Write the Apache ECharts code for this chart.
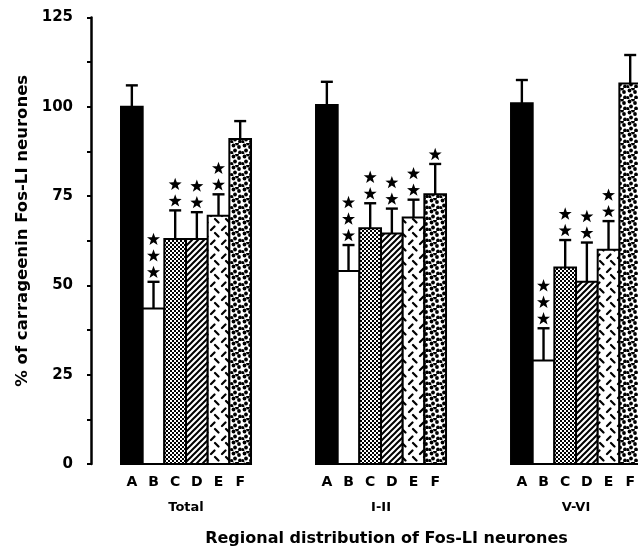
<!DOCTYPE html>
<html>
<head>
<meta charset="utf-8">
<script src="https://cdn.jsdelivr.net/npm/echarts@6/dist/echarts.min.js"></script>
<style>body{margin:0;background:#fff}</style>
</head>
<body>
<div id="main" style="width:638px;height:554px"></div>
<script>
var categories = ['A', 'B', 'C', 'D', 'E', 'F'];
var groups = ['Total', 'I-II', 'V-VI'];
var yTicks = [0, 25, 50, 75, 100, 125];

// mean % and upper error (sem) per group
var totalMean = [100, 43.5, 63, 63, 69.5, 91];
var totalSem  = [6, 7.5, 8, 7.5, 6, 5];
var totalStars = [0, 3, 2, 2, 2, 0];

var lamIMean = [100.5, 54, 66, 64.5, 69, 75.5];
var lamISem  = [6.5, 7.3, 7, 7, 5, 8.5];
var lamIStars = [0, 3, 2, 2, 2, 1];

var lamVMean = [101, 29, 55, 51, 60, 106.5];
var lamVSem  = [6.5, 9, 7.7, 11, 8, 8];
var lamVStars = [0, 3, 2, 2, 2, 0];

var SLOTS = 9; // 6 bars + 3 empty per group

// ---- fill patterns ----
function tile(w, h, draw) {
  var c = document.createElement('canvas');
  c.width = w; c.height = h;
  var g = c.getContext('2d');
  g.fillStyle = '#fff'; g.fillRect(0, 0, w, h);
  g.fillStyle = '#000'; g.strokeStyle = '#000';
  draw(g);
  return { image: c, repeat: 'repeat' };
}
var fills = [
  '#000',
  '#fff',
  tile(4, 4, function (g) { g.fillRect(0, 0, 2, 2); g.fillRect(2, 2, 2, 2); }),
  tile(6, 6, function (g) {
    g.lineWidth = 2;
    g.beginPath();
    g.moveTo(-1, 7); g.lineTo(7, -1);
    g.moveTo(-1, 1); g.lineTo(1, -1);
    g.moveTo(5, 7); g.lineTo(7, 5);
    g.stroke();
  }),
  tile(11, 14, function (g) {
    g.lineWidth = 2.2;
    g.lineCap = 'round';
    g.beginPath();
    g.moveTo(2, 6); g.lineTo(5.5, 2.5);
    g.moveTo(6, 9); g.lineTo(9.5, 12.5);
    g.stroke();
  }),
  tile(11, 11, function (g) {
    var pts = [[2.5, 2.5], [8, 4], [4, 7.5], [9, 9.5], [0.5, 10], [6, 0.5]];
    pts.forEach(function (p) { g.beginPath(); g.arc(p[0], p[1], 1.9, 0, Math.PI * 2); g.fill(); });
  })
];

function buildData() {
  var sets = [[totalMean, totalSem, totalStars], [lamIMean, lamISem, lamIStars], [lamVMean, lamVSem, lamVStars]];
  var out = [];
  for (var g = 0; g < sets.length; g++) {
    for (var i = 0; i < categories.length; i++) {
      out.push([g * SLOTS + i + 0.5, sets[g][0][i], sets[g][1][i], sets[g][2][i], i]);
    }
  }
  return out;
}
var data = buildData();

var letterPos = data.map(function (d) { return d[0]; });
var groupPos = groups.map(function (g, k) { return k * SLOTS + 3; });

var starPath = 'M0,-10 L2.35,-3.24 L9.51,-3.09 L3.8,1.24 L5.88,8.09 L0,4 L-5.88,8.09 L-3.8,1.24 L-9.51,-3.09 L-2.35,-3.24 Z';

function renderBar(params, api) {
  var x = api.value(0), y = api.value(1), k = api.value(4);
  var p0 = api.coord([x - 0.5, 0]);
  var p1 = api.coord([x + 0.5, y]);
  return {
    type: 'rect',
    shape: { x: p0[0], y: p1[1], width: p1[0] - p0[0], height: p0[1] - p1[1] },
    style: { fill: fills[k], stroke: '#000', lineWidth: 2 }
  };
}

function renderErr(params, api) {
  var x = api.value(0), y = api.value(1), e = api.value(2), n = api.value(3);
  var base = api.coord([x, y]);
  var top = api.coord([x, y + e]);
  var kids = [
    { type: 'line', shape: { x1: top[0], y1: base[1], x2: top[0], y2: top[1] }, style: { stroke: '#000', lineWidth: 2.4 } },
    { type: 'line', shape: { x1: top[0] - 6, y1: top[1], x2: top[0] + 6, y2: top[1] }, style: { stroke: '#000', lineWidth: 2.4 } }
  ];
  for (var i = 0; i < n; i++) {
    var cy = top[1] - 10 - 16.5 * i;
    kids.push({
      type: 'path',
      shape: { pathData: starPath, x: top[0] - 6.5, y: cy - 6.5, width: 13, height: 13 },
      style: { fill: '#000' }
    });
  }
  return { type: 'group', children: kids };
}

var chart = echarts.init(document.getElementById('main'));
var font = 'DejaVu Sans, sans-serif';
var xMin = -1.385, xMax = 23.86;

chart.setOption({
  animation: false,
  grid: { left: 91, top: 17.5, width: 547, bottom: 90 },
  xAxis: [{
    type: 'value', min: xMin, max: xMax,
    axisLine: { show: false }, axisTick: { show: false }, splitLine: { show: false },
    axisLabel: {
      customValues: letterPos, margin: 11,
      color: '#000', fontFamily: font, fontWeight: 'bold', fontSize: 14,
      formatter: function (v) { return categories[Math.round(v - 0.5) % SLOTS]; }
    },
    name: 'Regional distribution of Fos-LI neurones',
    nameLocation: 'middle', nameGap: 67,
    nameTextStyle: { color: '#000', fontFamily: font, fontWeight: 'bold', fontSize: 16, padding: [0, 0, 0, 44] }
  }, {
    type: 'value', min: xMin, max: xMax, position: 'bottom',
    axisLine: { show: false }, axisTick: { show: false }, splitLine: { show: false },
    axisLabel: {
      customValues: groupPos, margin: 37,
      color: '#000', fontFamily: font, fontWeight: 'bold', fontSize: 13,
      formatter: function (v) { return groups[Math.round((v - 3) / SLOTS)]; }
    }
  }],
  yAxis: {
    type: 'value', min: 0, max: 125, interval: 25,
    axisLine: { show: true, onZero: false, lineStyle: { color: '#000', width: 2.5 } },
    axisTick: { show: true, inside: false, length: 4, lineStyle: { color: '#000', width: 2 } },
    minorTick: { show: true, splitNumber: 2, length: 4, lineStyle: { color: '#000', width: 2 } },
    splitLine: { show: false },
    axisLabel: {
      margin: 18, color: '#000', fontFamily: font, fontWeight: 'bold', fontSize: 15,
      formatter: function (v) { return yTicks.indexOf(v) >= 0 ? String(v) : ''; }
    },
    name: '% of carrageenin Fos-LI neurones',
    nameLocation: 'middle', nameRotate: 90, nameGap: 58,
    nameTextStyle: { color: '#000', fontFamily: font, fontWeight: 'bold', fontSize: 16.5, padding: [0, 0, 0, 20] }
  },
  series: [
    { type: 'custom', renderItem: renderBar, data: data, encode: { x: 0, y: 1 } },
    { type: 'custom', renderItem: renderErr, data: data, encode: { x: 0, y: [1, 2] } }
  ]
});
</script>
</body>
</html>
